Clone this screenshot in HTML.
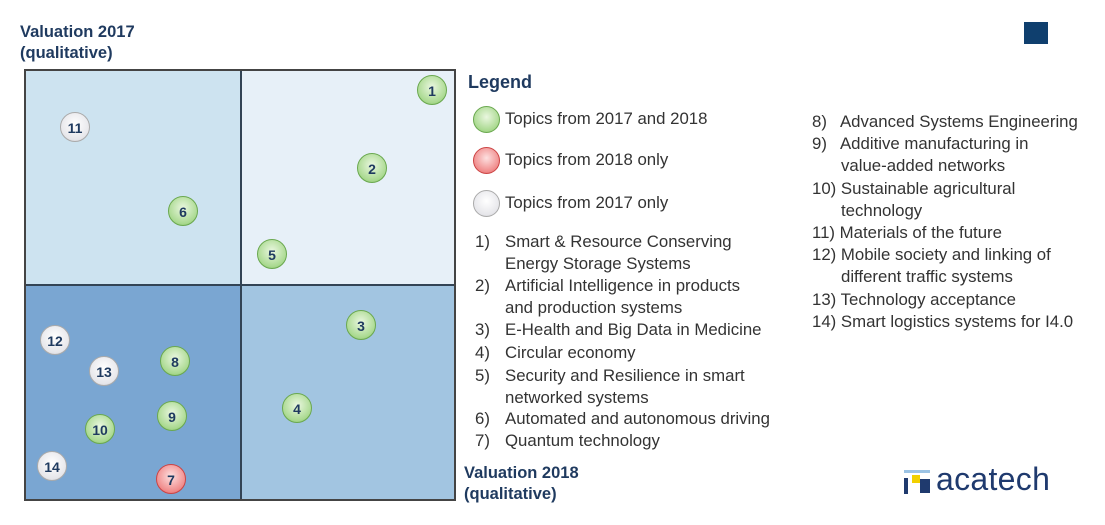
<!DOCTYPE html><html><head><style>
body{margin:0;width:1105px;height:525px;background:#fff;font-family:"Liberation Sans",sans-serif;position:relative;overflow:hidden}
.a{position:absolute}
.t{color:#1f3a5f;font-weight:bold;font-size:16.5px;line-height:21px}
.c{position:absolute;width:30px;height:30px;border-radius:50%;font-size:14px;font-weight:bold;color:#1f3a5f;text-align:center;line-height:30px;box-sizing:border-box}
.g{background:radial-gradient(circle at 50% 40%,#eaf7e0,#a9d98f 70%,#6fb24f);border:1.5px solid #6aa84f}
.r{background:radial-gradient(circle at 50% 40%,#fde0e0,#f08a8a 70%,#d14b4b);border:1.5px solid #c44}
.w{background:radial-gradient(circle at 50% 40%,#fff,#e6e6ea 70%,#bfbfc5);border:1.5px solid #aaa}
.l{position:absolute;font-size:16.8px;color:#333;line-height:22px;white-space:nowrap}
</style></head><body>
<div class="a t" style="left:20px;top:22px">Valuation 2017<br>(qualitative)</div>
<div class="a" style="left:1024px;top:22px;width:24px;height:22px;background:#0f3f6e"></div>
<div class="a" style="left:24px;top:69px;width:432px;height:432px;border:2px solid #444;box-sizing:border-box;overflow:hidden">
<div class="a" style="left:0;top:0;width:215px;height:214px;background:#cde3f0"></div>
<div class="a" style="left:215px;top:0;width:215px;height:214px;background:#e7f0f8"></div>
<div class="a" style="left:0;top:214px;width:215px;height:216px;background:#7aa6d2"></div>
<div class="a" style="left:215px;top:214px;width:215px;height:216px;background:#a2c5e1"></div>
<div class="a" style="left:214px;top:0;width:1.5px;height:430px;background:#345"></div>
<div class="a" style="left:0;top:213px;width:430px;height:1.5px;background:#345"></div>
</div>
<div class="c g" style="left:417px;top:75px">1</div>
<div class="c w" style="left:60px;top:112px">11</div>
<div class="c g" style="left:357px;top:153px">2</div>
<div class="c g" style="left:168px;top:196px">6</div>
<div class="c g" style="left:257px;top:239px">5</div>
<div class="c g" style="left:346px;top:310px">3</div>
<div class="c w" style="left:40px;top:325px">12</div>
<div class="c g" style="left:160px;top:346px">8</div>
<div class="c w" style="left:89px;top:356px">13</div>
<div class="c g" style="left:157px;top:401px">9</div>
<div class="c g" style="left:282px;top:393px">4</div>
<div class="c g" style="left:85px;top:414px">10</div>
<div class="c w" style="left:37px;top:451px">14</div>
<div class="c r" style="left:156px;top:464px">7</div>
<div class="a t" style="left:468px;top:72px;font-size:18px">Legend</div>
<div class="c g" style="left:473px;top:106px;width:27px;height:27px"></div><div class="l" style="left:505px;top:108px">Topics from 2017 and 2018</div>
<div class="c r" style="left:473px;top:147px;width:27px;height:27px"></div><div class="l" style="left:505px;top:149px">Topics from 2018 only</div>
<div class="c w" style="left:473px;top:190px;width:27px;height:27px"></div><div class="l" style="left:505px;top:192px">Topics from 2017 only</div>
<div class="l" style="left:475px;top:231px">1)</div><div class="l" style="left:505px;top:231px">Smart &amp; Resource Conserving<br>Energy Storage Systems</div>
<div class="l" style="left:475px;top:275px">2)</div><div class="l" style="left:505px;top:275px">Artificial Intelligence in products<br>and production systems</div>
<div class="l" style="left:475px;top:319px">3)</div><div class="l" style="left:505px;top:319px">E-Health and Big Data in Medicine</div>
<div class="l" style="left:475px;top:342px">4)</div><div class="l" style="left:505px;top:342px">Circular economy</div>
<div class="l" style="left:475px;top:365px">5)</div><div class="l" style="left:505px;top:365px">Security and Resilience in smart<br>networked systems</div>
<div class="l" style="left:475px;top:408px">6)</div><div class="l" style="left:505px;top:408px">Automated and autonomous driving</div>
<div class="l" style="left:475px;top:430px">7)</div><div class="l" style="left:505px;top:430px">Quantum technology</div>
<div class="l" style="left:812px;top:111px">8)&nbsp;&nbsp; Advanced Systems Engineering</div>
<div class="l" style="left:812px;top:133px">9)&nbsp;&nbsp; Additive manufacturing in<br><span style="padding-left:29px">value-added networks</span></div>
<div class="l" style="left:812px;top:178px">10) Sustainable agricultural<br><span style="padding-left:29px">technology</span></div>
<div class="l" style="left:812px;top:222px">11) Materials of the future</div>
<div class="l" style="left:812px;top:244px">12) Mobile society and linking of<br><span style="padding-left:29px">different traffic systems</span></div>
<div class="l" style="left:812px;top:289px">13) Technology acceptance</div>
<div class="l" style="left:812px;top:311px">14) Smart logistics systems for I4.0</div>
<div class="a t" style="left:464px;top:463px">Valuation 2018<br>(qualitative)</div>
<div class="a" style="left:904px;top:470px;width:26px;height:24px">
<div class="a" style="left:0;top:0;width:26px;height:3px;background:#9cc3e4"></div>
<div class="a" style="left:8px;top:5px;width:8px;height:8px;background:#f2d000"></div>
<div class="a" style="left:16px;top:9px;width:10px;height:14px;background:#1f3a6e"></div>
<div class="a" style="left:0;top:8px;width:4px;height:16px;background:#1f3a6e"></div>
</div>
<div class="a" style="left:936px;top:461px;font-size:32px;color:#1f3a6e;letter-spacing:0.3px">acatech</div>
</body></html>
